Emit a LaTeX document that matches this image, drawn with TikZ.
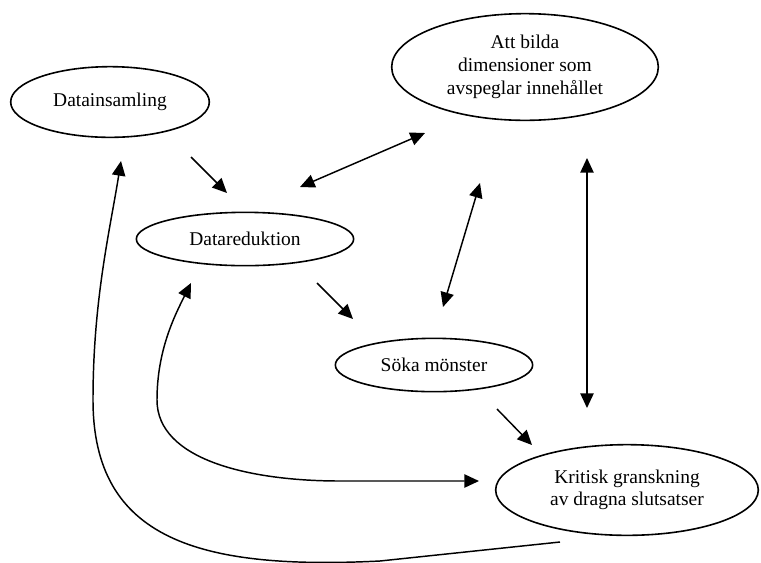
\documentclass[tikz,border=0pt]{standalone}
\usepackage{fontspec}
\setmainfont{Liberation Serif}
\usetikzlibrary{shapes,arrows.meta}

\begin{document}
\begin{tikzpicture}[x=0.75pt,y=-0.75pt,
  stage/.style={ellipse, draw, line width=1.2pt, inner sep=0pt, align=center, font=\fontsize{14.6}{17}\selectfont},
  arrow/.style={-{Triangle[length=11pt,width=10pt]}, line width=1.1pt},
  twoway/.style={{Triangle[length=11pt,width=10pt]}-{Triangle[length=11pt,width=10pt]}, line width=1.1pt}
]
\useasboundingbox (0,0) rectangle (761,562);

\node[stage, minimum width=149pt, minimum height=53pt] (insaml) at (110,102) {Datainsamling};
\node[stage, minimum width=200pt, minimum height=80pt] (bilda) at (525,67) {Att bilda\\dimensioner som\\avspeglar innehållet};
\node[stage, minimum width=163pt, minimum height=40pt] (reduk) at (245,239) {Datareduktion};
\node[stage, minimum width=148pt, minimum height=40pt] (soka) at (434,365) {Söka mönster};
\node[stage, minimum width=197pt, minimum height=68pt] (krit) at (627,490) {Kritisk granskning\\av dragna slutsatser};

% free ends of the arrows
\coordinate (insamlOut) at (191,157);
\coordinate (redukIn) at (227,193);
\coordinate (redukUp) at (300,187);
\coordinate (bildaLeft) at (425,133);
\coordinate (bildaDown) at (480,183);
\coordinate (sokaUp) at (443,307);
\coordinate (bildaRight) at (587,158);
\coordinate (kritUp) at (587,408);
\coordinate (redukOut) at (317,283);
\coordinate (sokaIn) at (353,319);
\coordinate (sokaOut) at (497,409);
\coordinate (kritIn) at (532,445);
\coordinate (redukLow) at (191,283);
\coordinate (kritLeft) at (479,481);
\coordinate (kritLow) at (560,542);
\coordinate (insamlLow) at (121,161);

\draw[arrow] (insamlOut) -- (redukIn);
\draw[twoway] (redukUp) -- (bildaLeft);
\draw[twoway] (bildaDown) -- (sokaUp);
\draw[twoway] (bildaRight) -- (kritUp);
\draw[arrow] (redukOut) -- (sokaIn);
\draw[arrow] (sokaOut) -- (kritIn);

% long loops back
\draw[twoway] (redukLow) .. controls (175,315) and (157,350) .. (157,400)
  .. controls (157,460) and (250,481) .. (340,481) -- (kritLeft);
\draw[arrow] (kritLow) -- (380,561) .. controls (200,570) and (93,540) .. (93,400)
  .. controls (93,300) and (110,230) .. (insamlLow);
\end{tikzpicture}
\end{document}
